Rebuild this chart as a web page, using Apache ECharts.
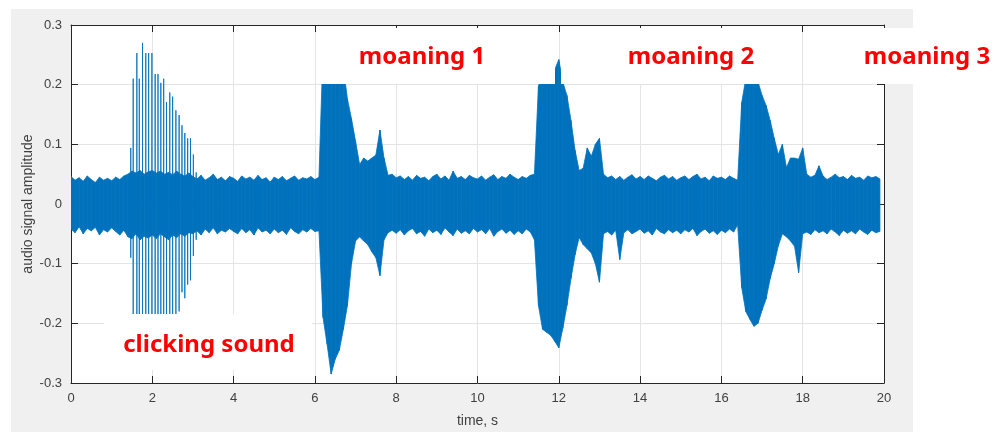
<!DOCTYPE html>
<html>
<head>
<meta charset="utf-8">
<script src="https://cdn.jsdelivr.net/npm/echarts@6/dist/echarts.min.js"></script>
<style>
  html, body { margin: 0; padding: 0; background: #fff; }
  #main { width: 997px; height: 433px; }
</style>
</head>
<body>
<div id="main"></div>
<script>
// audio waveform: one upper / lower value per 0.1 s
var step = 0.1;
var upper = [
  0.046, 0.040, 0.044, 0.038, 0.047, 0.041, 0.036, 0.045, 0.040, 0.043,
  0.039, 0.045, 0.041, 0.047, 0.050, 0.055, 0.052, 0.056, 0.050, 0.054,
  0.056, 0.052, 0.055, 0.050, 0.053, 0.049, 0.055, 0.050, 0.047, 0.052,
  0.046, 0.042, 0.048, 0.040, 0.044, 0.050, 0.041, 0.045, 0.039, 0.046,
  0.043, 0.038, 0.047, 0.042, 0.045, 0.040, 0.048, 0.041, 0.044, 0.037,
  0.045, 0.041, 0.046, 0.039, 0.043, 0.047, 0.040, 0.044, 0.042, 0.046,
  0.041, 0.045, 0.260, 0.280, 0.280, 0.270, 0.260, 0.230, 0.176, 0.143,
  0.105, 0.066, 0.077, 0.072, 0.077, 0.082, 0.124, 0.077, 0.048, 0.050,
  0.044, 0.047, 0.041, 0.046, 0.040, 0.048, 0.043, 0.045, 0.039, 0.046,
  0.050, 0.042, 0.047, 0.040, 0.055, 0.043, 0.046, 0.041, 0.048, 0.044,
  0.042, 0.047, 0.040, 0.045, 0.049, 0.041, 0.046, 0.043, 0.050, 0.045,
  0.041, 0.046, 0.043, 0.048, 0.050, 0.198, 0.215, 0.215, 0.220, 0.225,
  0.242, 0.204, 0.182, 0.140, 0.090, 0.056, 0.060, 0.094, 0.080, 0.100,
  0.110, 0.050, 0.044, 0.047, 0.041, 0.046, 0.040, 0.045, 0.049, 0.042,
  0.046, 0.041, 0.047, 0.043, 0.039, 0.045, 0.048, 0.042, 0.046, 0.040,
  0.044, 0.047, 0.041, 0.046, 0.050, 0.042, 0.045, 0.039, 0.047, 0.043,
  0.045, 0.041, 0.047, 0.043, 0.040, 0.170, 0.210, 0.212, 0.210, 0.205,
  0.182, 0.165, 0.140, 0.110, 0.083, 0.100, 0.061, 0.077, 0.077, 0.075,
  0.094, 0.050, 0.045, 0.048, 0.064, 0.047, 0.041, 0.045, 0.050, 0.044,
  0.046, 0.041, 0.048, 0.043, 0.045, 0.040, 0.047, 0.044, 0.046, 0.042
];
var lower = [
  -0.042, -0.048, -0.038, -0.050, -0.041, -0.045, -0.039, -0.052, -0.043, -0.047,
  -0.040, -0.046, -0.052, -0.044, -0.055, -0.058, -0.050, -0.060, -0.054, -0.057,
  -0.052, -0.058, -0.050, -0.055, -0.060, -0.052, -0.056, -0.050, -0.054, -0.048,
  -0.050, -0.045, -0.052, -0.042, -0.048, -0.040, -0.050, -0.044, -0.047, -0.041,
  -0.046, -0.050, -0.041, -0.048, -0.043, -0.052, -0.040, -0.047, -0.044, -0.050,
  -0.042, -0.048, -0.044, -0.051, -0.040, -0.046, -0.050, -0.043, -0.047, -0.041,
  -0.046, -0.045, -0.190, -0.235, -0.285, -0.260, -0.245, -0.210, -0.170, -0.100,
  -0.062, -0.055, -0.062, -0.068, -0.080, -0.090, -0.120, -0.060, -0.048, -0.044,
  -0.049, -0.043, -0.052, -0.045, -0.041, -0.050, -0.046, -0.054, -0.042, -0.048,
  -0.044, -0.051, -0.040, -0.047, -0.053, -0.042, -0.049, -0.045, -0.050, -0.041,
  -0.047, -0.043, -0.050, -0.041, -0.054, -0.046, -0.042, -0.049, -0.044, -0.051,
  -0.045, -0.050, -0.042, -0.047, -0.060, -0.170, -0.210, -0.215, -0.220, -0.230,
  -0.241, -0.208, -0.170, -0.125, -0.085, -0.056, -0.068, -0.075, -0.082, -0.100,
  -0.131, -0.050, -0.046, -0.052, -0.044, -0.093, -0.048, -0.043, -0.050, -0.046,
  -0.042, -0.049, -0.045, -0.052, -0.041, -0.047, -0.050, -0.043, -0.048, -0.044,
  -0.050, -0.043, -0.047, -0.041, -0.053, -0.046, -0.042, -0.049, -0.045, -0.051,
  -0.044, -0.048, -0.042, -0.047, -0.035, -0.140, -0.180, -0.193, -0.205, -0.200,
  -0.178, -0.159, -0.125, -0.100, -0.070, -0.050, -0.055, -0.062, -0.071, -0.115,
  -0.050, -0.047, -0.051, -0.043, -0.048, -0.045, -0.050, -0.042, -0.047, -0.053,
  -0.044, -0.049, -0.045, -0.050, -0.042, -0.047, -0.051, -0.044, -0.048, -0.046
];

// single clicks between 1.5 s and 3 s
var clickTimes   = [1.47, 1.53, 1.62, 1.68, 1.76, 1.84, 1.91, 1.99, 2.07, 2.14, 2.21, 2.28,
                    2.35, 2.43, 2.50, 2.58, 2.66, 2.73, 2.80, 2.87, 2.94, 3.01, 3.08];
var clickTops    = [0.094, 0.210, 0.253, 0.210, 0.270, 0.253, 0.253, 0.253, 0.218, 0.218, 0.203, 0.210,
                    0.171, 0.187, 0.180, 0.157, 0.149, 0.132, 0.119, 0.110, 0.110, 0.083, 0.053];
var clickBottoms = [-0.090, -0.200, -0.270, -0.270, -0.270, -0.220, -0.220, -0.220, -0.200, -0.200, -0.200, -0.200,
                    -0.200, -0.190, -0.190, -0.190, -0.180, -0.148, -0.158, -0.135, -0.128, -0.087, -0.060];

var xTicks = [0, 2, 4, 6, 8, 10, 12, 14, 16, 18, 20];
var yTicks = ['-0.3', '-0.2', '-0.1', '0', '0.1', '0.2', '0.3'];

var labels = [
  { text: 'moaning 1', x: 422, y: 57 },
  { text: 'moaning 2', x: 691, y: 57 },
  { text: 'moaning 3', x: 927, y: 57 },
  { text: 'clicking sound', x: 209, y: 345 }
];

// one quad per bin: [t, upper, lower, tNext, upperNext, lowerNext]
var bins = [];
for (var i = 0; i < upper.length - 1; i++) {
  var t = Math.round(i * step * 100) / 100;
  var tn = Math.round((i + 1) * step * 100) / 100;
  bins.push([t, upper[i], lower[i], tn, upper[i + 1], lower[i + 1]]);
}
var clicks = [];
clickTimes.forEach(function (t, k) {
  clicks.push([t, 0], [t, clickTops[k]], [t, clickBottoms[k]], [t, 0]);
});

var blue = '#0072BD';
var axisFont = { fontFamily: 'Liberation Sans', fontSize: 13, color: '#404040' };
var lineCol = '#262626';
var gridCol = '#e4e4e4';

var myChart = echarts.init(document.getElementById('main'));

function renderBin(params, api) {
  var a = api.coord([api.value(0), api.value(1)]);
  var b = api.coord([api.value(3), api.value(4)]);
  var c = api.coord([api.value(3), api.value(5)]);
  var d = api.coord([api.value(0), api.value(2)]);
  return {
    type: 'polygon',
    shape: { points: [a, b, c, d] },
    style: { fill: blue, stroke: blue, lineWidth: 0.8 }
  };
}

var option = {
  backgroundColor: '#fff',
  animation: false,
  grid: { left: 71, top: 25, width: 813, height: 364, show: true, backgroundColor: '#fff', borderWidth: 0 },
  xAxis: [{
    type: 'value', min: 0, max: 20, interval: 2,
    axisLine: { onZero: false, lineStyle: { color: lineCol } },
    axisTick: { inside: true, length: 7, lineStyle: { color: lineCol } },
    axisLabel: Object.assign({ margin: 9, formatter: function (v) { return String(xTicks[Math.round(v / 2)]); } }, axisFont),
    splitLine: { lineStyle: { color: gridCol } },
    name: 'time, s', nameLocation: 'middle', nameGap: 31,
    nameTextStyle: { fontFamily: 'Liberation Sans', fontSize: 14, color: '#404040' }
  }, {
    type: 'value', position: 'top', min: 0, max: 20, interval: 2,
    axisLine: { onZero: false, lineStyle: { color: lineCol } },
    axisTick: { inside: true, length: 7, lineStyle: { color: lineCol } },
    axisLabel: { show: false }, splitLine: { show: false }
  }],
  yAxis: [{
    type: 'value', min: -0.3, max: 0.3, interval: 0.1,
    axisLine: { show: true, onZero: false, lineStyle: { color: lineCol } },
    axisTick: { show: true, inside: true, length: 7, lineStyle: { color: lineCol } },
    axisLabel: Object.assign({ margin: 9, formatter: function (v) { return yTicks[Math.round(v * 10) + 3]; } }, axisFont),
    splitLine: { lineStyle: { color: gridCol } },
    name: 'audio signal amplitude', nameLocation: 'middle', nameGap: 36, nameRotate: 90,
    nameMoveOverlap: false,
    nameTextStyle: { fontFamily: 'Liberation Sans', fontSize: 14, color: '#404040' }
  }, {
    type: 'value', position: 'right', min: -0.3, max: 0.3, interval: 0.1,
    axisLine: { show: true, onZero: false, lineStyle: { color: lineCol } },
    axisTick: { show: true, inside: true, length: 7, lineStyle: { color: lineCol } },
    axisLabel: { show: false }, splitLine: { show: false }
  }],
  series: [{
    type: 'custom', data: bins, renderItem: renderBin, clip: true, z: 3,
    encode: { x: [0, 3], y: [1, 2, 4, 5] }
  }, {
    type: 'line', data: clicks, showSymbol: false, symbol: 'none',
    lineStyle: { color: blue, width: 1, opacity: 0.85 }, z: 3
  }],
  graphic: {
    elements: [
      { type: 'rect', z: -10, shape: { x: 11, y: 9, width: 902, height: 423 }, style: { fill: '#f0f0f0' } },
      { type: 'rect', z: 100, shape: { x: 318, y: 28, width: 237, height: 56 }, style: { fill: '#fff' } },
      { type: 'rect', z: 100, shape: { x: 561, y: 28, width: 240, height: 56 }, style: { fill: '#fff' } },
      { type: 'rect', z: 100, shape: { x: 806, y: 28, width: 191, height: 56 }, style: { fill: '#fff' } },
      { type: 'rect', z: 100, shape: { x: 104, y: 314, width: 208, height: 56 }, style: { fill: '#fff' } }
    ].concat(labels.map(function (l) {
      return {
        type: 'text', z: 101, x: l.x, y: l.y,
        style: {
          text: l.text, fill: '#ff0000', font: 'bold 24px "Noto Sans"',
          textAlign: 'center', textVerticalAlign: 'middle'
        }
      };
    }))
  }
};
myChart.setOption(option);
</script>
</body>
</html>
